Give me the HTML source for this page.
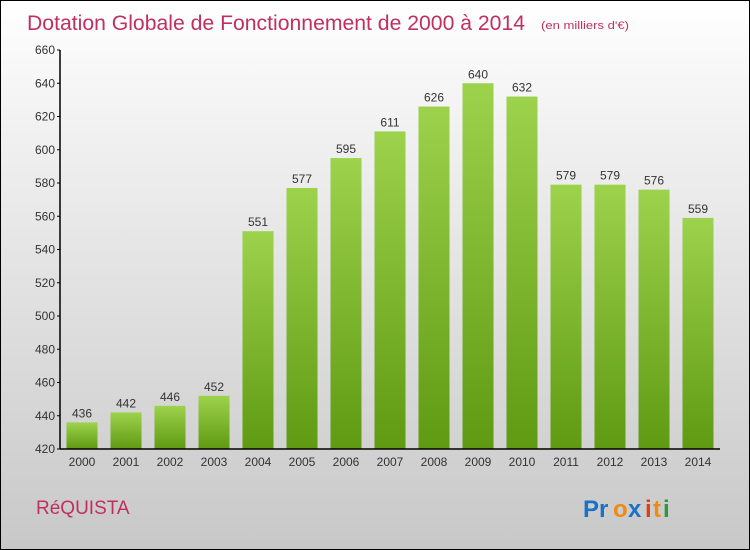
<!DOCTYPE html>
<html><head><meta charset="utf-8"><style>
body{margin:0}
#c{position:relative;width:748px;height:548px;border:1px solid #000;background:linear-gradient(#fff,#f0f0f0 25%,#d8d8d8 70%,#c8c8c8);font-family:"Liberation Sans",sans-serif;overflow:hidden}
</style></head><body>
<div id="c">
<svg id="s" width="748" height="548">
<defs><linearGradient id="g" x1="0" y1="0" x2="0" y2="1"><stop offset="0" stop-color="#9dd24c"/><stop offset="1" stop-color="#5f9a12"/></linearGradient></defs>
<text x="26" y="29" font-size="21" fill="#c0305f" textLength="498" lengthAdjust="spacingAndGlyphs">Dotation Globale de Fonctionnement de 2000 à 2014</text>
<text x="540" y="28" font-size="11" fill="#c0305f" textLength="88" lengthAdjust="spacingAndGlyphs">(en milliers d'€)</text>
<text x="35" y="513" font-size="19" fill="#c0305f">RéQUISTA</text>
<g font-size="24" font-weight="bold"><text x="582" y="516" fill="#1a72c8">Pr</text><text x="612" y="516" fill="#f08a10">o</text><text x="627" y="516" fill="#1a72c8">x</text><text x="644" y="516" fill="#e04010">i</text><text x="652" y="516" fill="#f08a10">t</text><text x="662" y="516" fill="#2a9a3a">i</text></g>
</svg>
</div>
<script>
const years=["2000","2001","2002","2003","2004","2005","2006","2007","2008","2009","2010","2011","2012","2013","2014"];
const values=[436,442,446,452,551,577,595,611,626,640,632,579,579,576,559];
const yTicks=[420,440,460,480,500,520,540,560,580,600,620,640,660];
const s=document.getElementById('s'),NS="http://www.w3.org/2000/svg";
const x0=59,x1=719,yMin=420,yMax=660,yTop=49,yBot=448;
const step=(x1-x0)/years.length;
const Y=v=>yBot-(v-yMin)/(yMax-yMin)*(yBot-yTop);
const X=i=>x0+step*(i+0.5);
function mk(t,a,txt){const e=document.createElementNS(NS,t);for(const k in a)e.setAttribute(k,a[k]);if(txt!=null)e.textContent=txt;s.appendChild(e);return e;}
yTicks.forEach(v=>{
const l=mk('line',{x1:x0-3,x2:x0,y1:Y(v),y2:Y(v),stroke:'#000'});


const t=mk('text',{x:x0-5,y:Y(v)+4,'font-size':12,fill:'#333','text-anchor':'end'},v);


});
values.forEach((v,i)=>{
const b=mk('rect',{x:X(i)-15.5,y:Y(v),width:31,height:yBot-Y(v),fill:'url(#g)'});


const t=mk('text',{x:X(i),y:Y(v)-5,'font-size':12,fill:'#333','text-anchor':'middle'},v);


const xl=mk('text',{x:X(i),y:yBot+17,'font-size':12,fill:'#333','text-anchor':'middle'},years[i]);


});
const ya=mk('line',{x1:x0,x2:x0,y1:yTop,y2:yBot,stroke:'#000','stroke-width':1.5});


const xa=mk('line',{x1:x0,x2:x1,y1:yBot,y2:yBot,stroke:'#000','stroke-width':1.5});


</script>
</body></html>
